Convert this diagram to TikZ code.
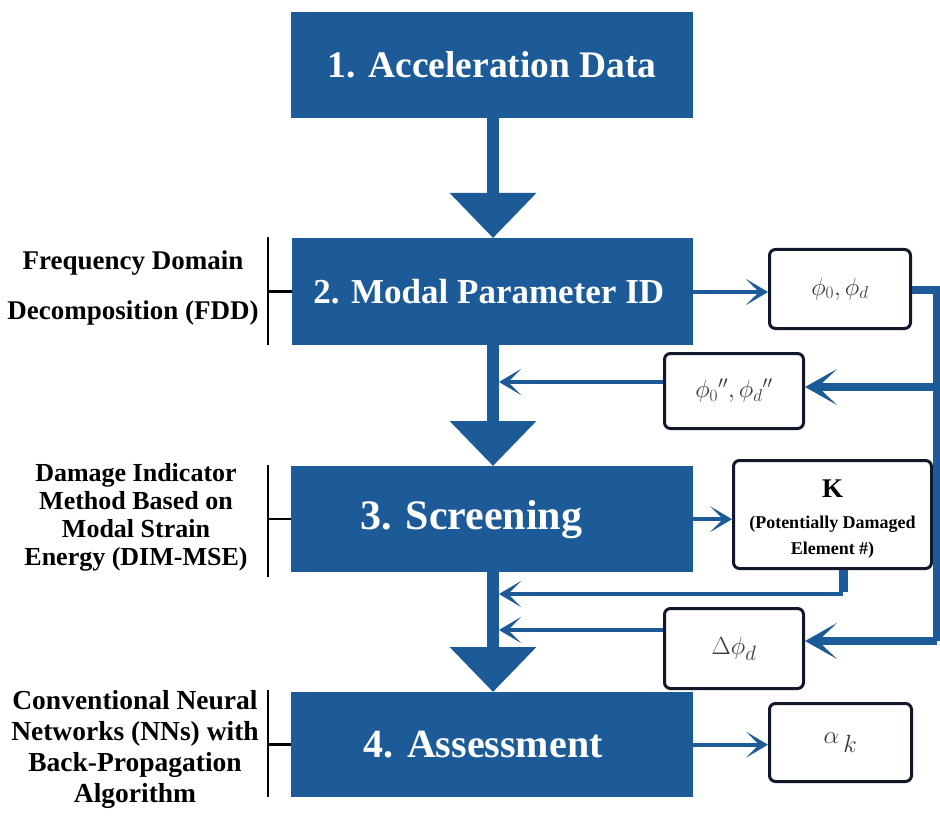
\documentclass[tikz,border=0pt]{standalone}
\usepackage{fontspec}
\setmainfont{Liberation Serif}[
  UprightFont={Liberation Serif},
  BoldFont={Liberation Serif Bold},
  ItalicFont={Liberation Serif Italic},
  BoldItalicFont={Liberation Serif Bold Italic}]
\usetikzlibrary{arrows.meta}
\definecolor{flowblue}{RGB}{28,90,152}
\definecolor{boxline}{RGB}{18,24,42}
\definecolor{mathgray}{RGB}{55,55,60}

\tikzset{
  stepbox/.style={fill=flowblue, draw=none, text=white, inner sep=0pt,
    anchor=north west, font=\rmfamily\bfseries},
  valbox/.style={draw=boxline, line width=3pt, rounded corners=6pt, fill=white,
    inner sep=0pt, anchor=north west, text=mathgray},
  sidenote/.style={align=center, text=black, inner sep=0pt},
  bracket/.style={line width=2.5pt, black},
  mainflow/.style={draw=flowblue, line width=12pt,
    -{Triangle[length=45pt,width=84pt]}},
  feed/.style={draw=flowblue, line width=4pt,
    -{Stealth[length=22pt,width=26pt,inset=13pt]}},
  bus/.style={draw=flowblue, line width=8pt},
  busarrow/.style={draw=flowblue, line width=8pt,
    -{Stealth[length=32pt,width=36pt,inset=19pt]}},
}

\begin{document}
\begin{tikzpicture}[x=1pt,y=-1pt]
\useasboundingbox (0,0) rectangle (940,821);

% main process steps
\node[stepbox, minimum width=402pt, minimum height=106pt] (s1) at (291,12)
  {\fontsize{37.5}{42}\selectfont 1. Acceleration Data};
\node[stepbox, minimum width=401pt, minimum height=107pt] (s2) at (292,238)
  {\fontsize{35}{40}\selectfont 2. Modal Parameter ID\hspace*{8pt}};
\node[stepbox, minimum width=402pt, minimum height=106pt] (s3) at (291,466)
  {\fontsize{42}{46}\selectfont 3. Screening\hspace*{42pt}};
\node[stepbox, minimum width=402pt, minimum height=105pt] (s4) at (291,692)
  {\fontsize{40}{44}\selectfont 4. Assessment\hspace*{18pt}};

% intermediate results
\node[valbox, minimum width=141pt, minimum height=79pt] (phi) at (768,248)
  {\fontsize{26}{30}\selectfont $\phi_0,\phi_d$};
\node[valbox, minimum width=139pt, minimum height=75pt] (phipp) at (663,352)
  {\fontsize{26}{30}\selectfont $\phi_0{}^{\prime\prime},\phi_d{}^{\prime\prime}$};
\node[valbox, minimum width=198pt, minimum height=108pt, align=center, text=black,
  font=\rmfamily\bfseries\fontsize{18}{26}\selectfont]
  (K) at (732,459)
  {{\fontsize{27}{30}\selectfont\rule{0pt}{27pt}K}\\[5pt]
   (Potentially Damaged\\Element \#)};
\node[valbox, minimum width=139pt, minimum height=80pt] (dphi) at (663,607)
  {\fontsize{28}{32}\selectfont $\Delta\phi_d$};
\node[valbox, minimum width=142pt, minimum height=78pt] (alpha) at (768,702)
  {\fontsize{36}{40}\selectfont $\alpha_{\,k}$};

% method notes on the left
\node[sidenote, font=\rmfamily\bfseries\fontsize{27}{50}\selectfont] (n2) at (133,288)
  {Frequency Domain\\Decomposition (FDD)};
\node[sidenote, font=\rmfamily\bfseries\fontsize{26}{28}\selectfont] (n3) at (136,517)
  {Damage Indicator\\Method Based on\\Modal Strain\\Energy (DIM-MSE)};
\node[sidenote, font=\rmfamily\bfseries\fontsize{27.5}{31}\selectfont] (n4) at (135,749)
  {Conventional Neural\\Networks (NNs) with\\Back-Propagation\\Algorithm};

% brackets tying notes to steps
\coordinate (b2t) at (268,237); \coordinate (b2b) at (268,345);
\coordinate (b3t) at (268,465); \coordinate (b3b) at (268,577);
\coordinate (b4t) at (268,690); \coordinate (b4b) at (268,797);
\draw[bracket] (b2t) -- (b2b);
\draw[bracket] (b2t |- s2.west) -- (s2.west);
\draw[bracket] (b3t) -- (b3b);
\draw[bracket] (b3t |- s3.west) -- (s3.west);
\draw[bracket] (b4t) -- (b4b);
\draw[bracket] (b4t |- s4.west) -- (s4.west);

% main flow
\draw[mainflow] (s1.south -| 493,0) -- (s2.north -| 493,0);
\draw[mainflow] (s2.south -| 493,0) -- (s3.north -| 493,0);
\draw[mainflow] (s3.south -| 493,0) -- (s4.north -| 493,0);

% outputs of the steps
\draw[feed] (s2.east |- 0,292) -- (phi.west |- 0,292);
\draw[feed] (s3.east) -- (s3.east -| K.west);
\draw[feed] (s4.east) -- (s4.east -| alpha.west);

% mode shape bus on the right
\coordinate (busTop) at (937,290);
\coordinate (busBot) at (937,641);
\draw[bus] (busTop -| phi.east) -- (busTop) -- (busBot);
\draw[busarrow] (busTop |- 0,387) -- (phipp.east |- 0,387);
\draw[busarrow] (busBot) -- (busBot -| dphi.east);

% feedback into the main flow
\coordinate (j1) at (499,382);
\coordinate (j2) at (499,594);
\coordinate (j3) at (499,630);
\coordinate (kturn) at (843,594);
\draw[feed] (j1 -| phipp.west) -- (j1);
\draw[bus, line width=9pt] (kturn |- K.south) -- ([yshift=2pt]kturn);
\draw[feed] (kturn) -- (j2);
\draw[feed] (j3 -| dphi.west) -- (j3);
\end{tikzpicture}
\end{document}
